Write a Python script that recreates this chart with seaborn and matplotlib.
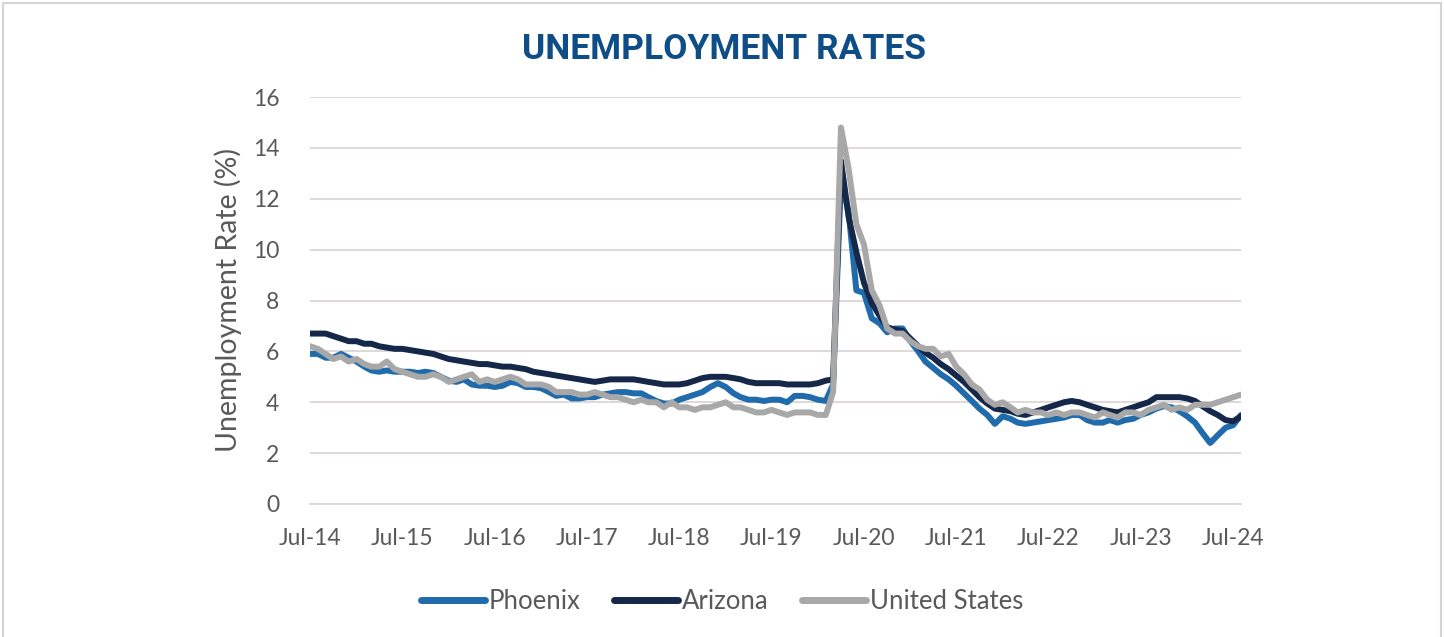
import matplotlib
matplotlib.use("Agg")
import matplotlib.pyplot as plt
import matplotlib.dates as mdates
from matplotlib.patches import Rectangle
import seaborn as sns
import pandas as pd

# Monthly data, Jul 2014 - Aug 2024
months = pd.date_range("2014-07-01", "2024-08-01", freq="MS")

phoenix = [
    5.9, 5.9, 5.75, 5.75, 5.9, 5.75,                                # 2014 Jul-Dec
    5.6, 5.4, 5.25, 5.2, 5.25, 5.2, 5.2, 5.2, 5.15, 5.2, 5.15, 5.0,  # 2015
    4.85, 4.8, 4.9, 4.7, 4.65, 4.65, 4.6, 4.65, 4.8, 4.75, 4.6, 4.6,  # 2016
    4.55, 4.4, 4.25, 4.3, 4.15, 4.15, 4.2, 4.2, 4.3, 4.35, 4.4, 4.4,  # 2017
    4.35, 4.35, 4.2, 4.05, 3.95, 3.95, 4.1, 4.2, 4.3, 4.4, 4.6, 4.75,  # 2018
    4.6, 4.35, 4.2, 4.1, 4.1, 4.05, 4.1, 4.1, 4.0, 4.25, 4.25, 4.2,  # 2019
    4.1, 4.05, 4.7, 12.8, 11.5, 8.4, 8.3, 7.3, 7.1, 6.75, 6.9, 6.9,  # 2020
    6.4, 6.0, 5.6, 5.35, 5.1, 4.9, 4.65, 4.35, 4.05, 3.75, 3.5, 3.15,  # 2021
    3.45, 3.35, 3.2, 3.15, 3.2, 3.25, 3.3, 3.35, 3.4, 3.5, 3.5, 3.3,  # 2022
    3.2, 3.2, 3.3, 3.2, 3.3, 3.35, 3.5, 3.6, 3.75, 3.85, 3.8, 3.65,  # 2023
    3.45, 3.2, 2.8, 2.4, 2.7, 3.0, 3.1, 3.5,                          # 2024 Jan-Aug
]

arizona = [
    6.7, 6.7, 6.7, 6.6, 6.5, 6.4,
    6.4, 6.3, 6.3, 6.2, 6.15, 6.1, 6.1, 6.05, 6.0, 5.95, 5.9, 5.8,
    5.7, 5.65, 5.6, 5.55, 5.5, 5.5, 5.45, 5.4, 5.4, 5.35, 5.3, 5.2,
    5.15, 5.1, 5.05, 5.0, 4.95, 4.9, 4.85, 4.8, 4.85, 4.9, 4.9, 4.9,
    4.9, 4.85, 4.8, 4.75, 4.7, 4.7, 4.7, 4.75, 4.85, 4.95, 5.0, 5.0,
    5.0, 4.95, 4.9, 4.8, 4.75, 4.75, 4.75, 4.75, 4.7, 4.7, 4.7, 4.7,
    4.75, 4.85, 4.9, 13.5, 11.3, 9.9, 8.7, 7.9, 7.4, 6.95, 6.85, 6.8,
    6.5, 6.2, 5.95, 5.75, 5.5, 5.3, 5.05, 4.8, 4.5, 4.2, 3.95, 3.75,
    3.7, 3.65, 3.55, 3.5, 3.6, 3.7, 3.8, 3.9, 4.0, 4.05, 4.0, 3.9,
    3.8, 3.7, 3.65, 3.6, 3.7, 3.8, 3.9, 4.0, 4.2, 4.2, 4.2, 4.2,
    4.15, 4.05, 3.85, 3.65, 3.5, 3.3, 3.25, 3.45,
]

united_states = [
    6.2, 6.1, 5.9, 5.7, 5.8, 5.6,
    5.7, 5.5, 5.4, 5.4, 5.6, 5.3, 5.2, 5.1, 5.0, 5.0, 5.1, 5.0,
    4.8, 4.9, 5.0, 5.1, 4.8, 4.9, 4.8, 4.9, 5.0, 4.9, 4.7, 4.7,
    4.7, 4.6, 4.4, 4.4, 4.4, 4.3, 4.3, 4.4, 4.3, 4.2, 4.2, 4.1,
    4.0, 4.1, 4.0, 4.0, 3.8, 4.0, 3.8, 3.8, 3.7, 3.8, 3.8, 3.9,
    4.0, 3.8, 3.8, 3.7, 3.6, 3.6, 3.7, 3.6, 3.5, 3.6, 3.6, 3.6,
    3.5, 3.5, 4.4, 14.8, 13.2, 11.0, 10.2, 8.4, 7.8, 6.9, 6.7, 6.7,
    6.4, 6.2, 6.1, 6.1, 5.8, 5.9, 5.4, 5.1, 4.7, 4.5, 4.1, 3.9,
    4.0, 3.8, 3.6, 3.7, 3.6, 3.6, 3.5, 3.6, 3.5, 3.6, 3.6, 3.5,
    3.4, 3.6, 3.5, 3.4, 3.6, 3.6, 3.5, 3.7, 3.8, 3.9, 3.7, 3.8,
    3.7, 3.9, 3.9, 3.9, 4.0, 4.1, 4.2, 4.3,
]

series_names = ["Phoenix", "Arizona", "United States"]
colors = ["#1f6bab", "#15284a", "#a8a8a8"]

df = pd.DataFrame({"Date": months, "Phoenix": phoenix,
                   "Arizona": arizona, "United States": united_states})
long_df = df.melt(id_vars="Date", var_name="Area", value_name="Rate")

sns.set_theme(style="white")
plt.rcParams["font.family"] = ["Lato", "DejaVu Sans"]

text_color = "#595959"
grid_color = "#dcd6d3"

fig = plt.figure(figsize=(14.44, 6.37), dpi=100)
ax = fig.add_axes([310 / 1444, 133 / 637, 931 / 1444, 407 / 637])

sns.lineplot(data=long_df, x="Date", y="Rate", hue="Area",
             hue_order=series_names, palette=colors, linewidth=4.3,
             ax=ax, legend=False)

ax.set_xlim(months[0], months[-1])
ax.set_ylim(0, 16)
ax.set_yticks(range(0, 17, 2))
ax.yaxis.grid(True, color=grid_color, linewidth=1.3)
ax.set_axisbelow(True)

ax.xaxis.set_major_locator(mdates.MonthLocator(bymonth=7))
ax.xaxis.set_major_formatter(mdates.DateFormatter("%b-%y"))

for side in ["top", "right", "left"]:
    ax.spines[side].set_visible(False)
ax.spines["bottom"].set_color(grid_color)
ax.spines["bottom"].set_linewidth(1.3)

ax.tick_params(axis="x", colors=grid_color, length=7, width=1.3,
               labelcolor=text_color, labelsize=16.5, pad=10)
ax.tick_params(axis="y", length=0, labelcolor=text_color, labelsize=16.5, pad=22)

ax.set_xlabel("")
ax.set_ylabel("Unemployment Rate (%)", fontsize=20.5, color=text_color, labelpad=8)

fig.text(0.5015, 0.922, "UNEMPLOYMENT RATES", ha="center", va="center",
         fontsize=25.5, fontweight="bold", color="#0f4d86",
         family=["Roboto", "DejaVu Sans"])

handles = [plt.Line2D([], [], color=c, linewidth=5, solid_capstyle="round")
           for c in colors]
fig.legend(handles, series_names, loc="center", bbox_to_anchor=(0.5, 0.056),
           ncol=3, frameon=False, fontsize=18.5, handlelength=2.5,
           handletextpad=0.15, columnspacing=1.3, labelcolor=text_color)

fig.add_artist(Rectangle((0.002, -0.01), 0.996, 1.005, transform=fig.transFigure,
                         fill=False, edgecolor="#d4d4d4", linewidth=1.5))

fig.savefig("out.png", dpi=100)
